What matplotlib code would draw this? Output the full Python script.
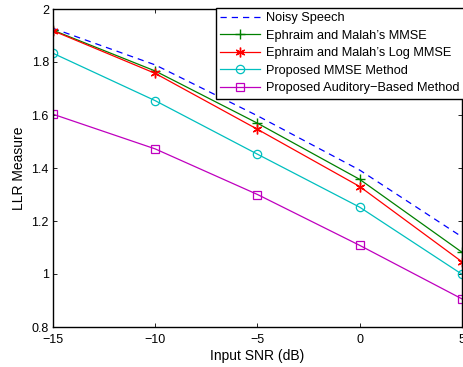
import matplotlib
matplotlib.use("Agg")
import matplotlib.pyplot as plt

snr = [-15, -10, -5, 0, 5]
noisy = [1.927, 1.789, 1.597, 1.392, 1.14]
mmse = [1.92, 1.766, 1.569, 1.357, 1.082]
logmmse = [1.918, 1.757, 1.546, 1.33, 1.046]
prop_mmse = [1.833, 1.654, 1.452, 1.252, 0.999]
prop_aud = [1.603, 1.472, 1.30, 1.108, 0.906]

labels = ["Noisy Speech", "Ephraim and Malah\u2019s MMSE", "Ephraim and Malah\u2019s Log MMSE",
          "Proposed MMSE Method", "Proposed Auditory\u2212Based Method"]
xticks = [-15, -10, -5, 0, 5]
yticks = [0.8, 1, 1.2, 1.4, 1.6, 1.8, 2]
ytick_labels = ["0.8", "1", "1.2", "1.4", "1.6", "1.8", "2"]

plt.rcParams['font.family'] = ['Liberation Sans', 'DejaVu Sans']

fig = plt.figure(figsize=(4.64, 3.67), dpi=100)
ax = fig.add_axes([53/464, 40/367, 409/464, 318/367])

ax.plot(snr, noisy, color=(0, 0, 1), ls=(0, (5, 4)), lw=0.9, label=labels[0])
ax.plot(snr, mmse, color=(0, 0.5, 0), marker='+', ms=7, mew=1, lw=0.9, label=labels[1])
ax.plot(snr, logmmse, color=(1, 0, 0), marker=(6, 2, 0), ms=7, mew=1, lw=0.9, label=labels[2])
ax.plot(snr, prop_mmse, color=(0, 0.75, 0.75), marker='o', ms=6, mfc='none', mew=0.9, lw=0.9, label=labels[3])
ax.plot(snr, prop_aud, color=(0.75, 0, 0.75), marker='s', ms=5.5, mfc='none', mew=0.9, lw=0.9, label=labels[4])

ax.set_xlim(-15, 5)
ax.set_ylim(0.8, 2)
ax.set_xticks(xticks)
ax.set_xticklabels(["\u221215", "\u221210", "\u22125", "0", "5"])
ax.set_yticks(yticks)
ax.set_yticklabels(ytick_labels)
ax.tick_params(direction='in', top=True, right=True, labelsize=9, length=3, width=0.6, pad=3)
ax.tick_params(axis='x', pad=5)
for s in ax.spines.values():
    s.set_linewidth(1.0)

ax.set_xlabel("Input SNR (dB)", fontsize=10, labelpad=2)
ax.set_ylabel("LLR Measure", fontsize=10, labelpad=4)

leg = ax.legend(loc='upper right', bbox_to_anchor=(1.005, 1.004), fontsize=9.2,
                frameon=True, fancybox=False, edgecolor='black', framealpha=1,
                borderaxespad=0, handlelength=3.1, handletextpad=0.5,
                labelspacing=0.43, borderpad=0.35)
leg.get_frame().set_linewidth(1.0)

fig.savefig("out.png", dpi=100)
